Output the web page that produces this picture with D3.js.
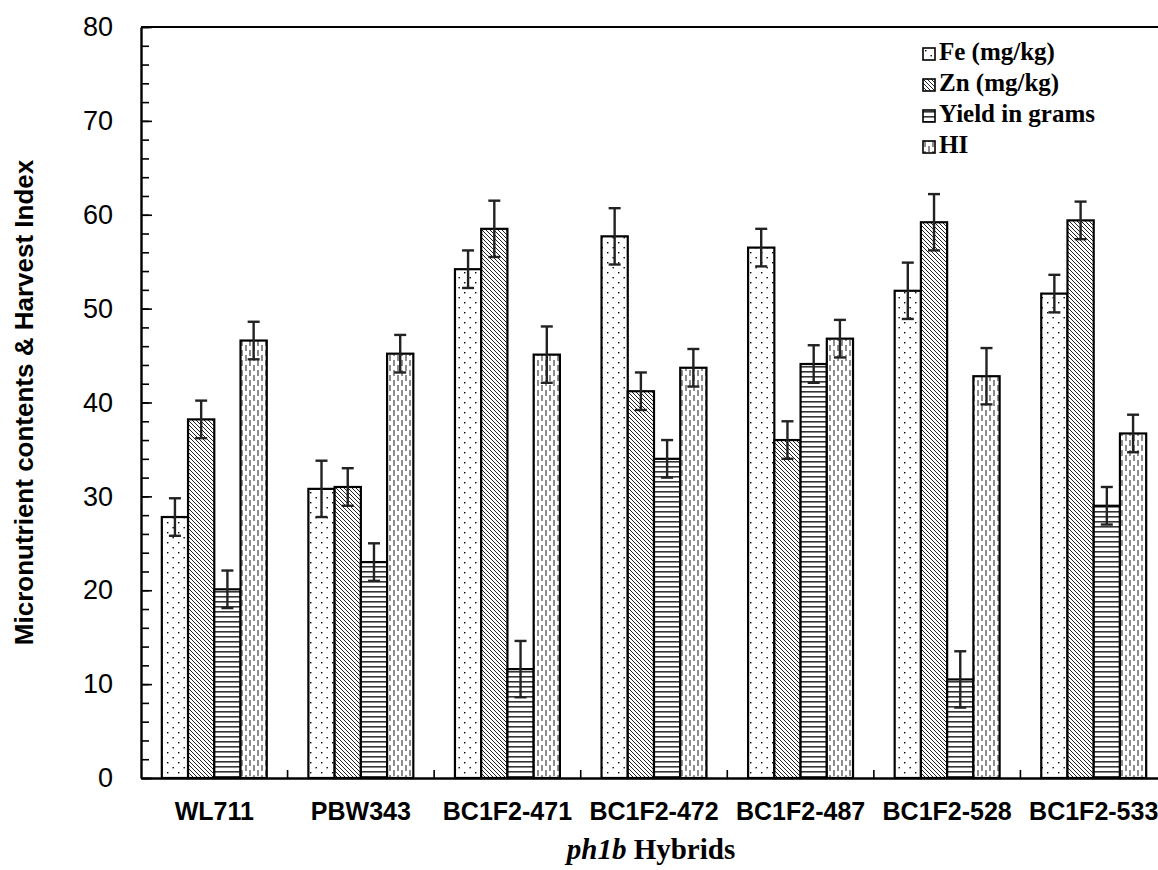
<!DOCTYPE html>
<html>
<head>
<meta charset="utf-8">
<script src="https://cdn.jsdelivr.net/npm/d3@7/dist/d3.min.js"></script>
<style>
  html, body { margin: 0; padding: 0; background: #fff; }
  svg { display: block; }
</style>
</head>
<body>
<div id="chart"></div>
<script>
// data
const hybrids = ['WL711', 'PBW343', 'BC1F2-471', 'BC1F2-472', 'BC1F2-487', 'BC1F2-528', 'BC1F2-533'];
const seriesNames = ['Fe (mg/kg)', 'Zn (mg/kg)', 'Yield in grams', 'HI'];
const feValues    = [27.8, 30.8, 54.2, 57.7, 56.5, 51.9, 51.6];
const znValues    = [38.2, 31.0, 58.5, 41.2, 36.0, 59.2, 59.4];
const yieldValues = [20.1, 23.0, 11.6, 34.0, 44.1, 10.5, 29.0];
const hiValues    = [46.6, 45.2, 45.1, 43.7, 46.8, 42.8, 36.7];
const feErr    = [2, 3, 2, 3, 2, 3, 2];
const znErr    = [2, 2, 3, 2, 2, 3, 2];
const yieldErr = [2, 2, 3, 2, 2, 3, 2];
const hiErr    = [2, 2, 3, 2, 2, 3, 2];
const yTicks = [0, 10, 20, 30, 40, 50, 60, 70, 80];

const W = 1158, H = 870;
const margin = { top: 27, left: 141, bottom: 92 };
const plotRight = 1167; // the right border is cut off in the original
const plotBottom = H - margin.bottom;

const svg = d3.select('#chart').append('svg')
  .attr('width', W).attr('height', H);

// fill patterns
const defs = svg.append('defs');
const pFe = defs.append('pattern').attr('id', 'pFe').attr('patternUnits', 'userSpaceOnUse')
  .attr('width', 11).attr('height', 10);
pFe.append('rect').attr('width', 11).attr('height', 10).attr('fill', '#fff');
pFe.append('rect').attr('x', 2).attr('y', 2).attr('width', 1.4).attr('height', 1.4).attr('fill', '#000');
pFe.append('rect').attr('x', 7.5).attr('y', 7).attr('width', 1.4).attr('height', 1.4).attr('fill', '#000');

const pZn = defs.append('pattern').attr('id', 'pZn').attr('patternUnits', 'userSpaceOnUse')
  .attr('width', 4).attr('height', 4);
pZn.append('rect').attr('width', 4).attr('height', 4).attr('fill', '#fff');
pZn.append('path').attr('d', 'M-1,-1L5,5M-1,3L1,5M3,-1L5,1')
  .attr('stroke', '#222').attr('stroke-width', 1);

const pYield = defs.append('pattern').attr('id', 'pYield').attr('patternUnits', 'userSpaceOnUse')
  .attr('width', 6).attr('height', 5);
pYield.append('rect').attr('width', 6).attr('height', 5).attr('fill', '#fff');
pYield.append('rect').attr('y', 1).attr('width', 6).attr('height', 1.6).attr('fill', '#333');

const pHI = defs.append('pattern').attr('id', 'pHI').attr('patternUnits', 'userSpaceOnUse')
  .attr('width', 8).attr('height', 10);
pHI.append('rect').attr('width', 8).attr('height', 10).attr('fill', '#fff');
pHI.append('path').attr('d', 'M2,0V6M6,5V10M6,0V1')
  .attr('stroke', '#333').attr('stroke-width', 1.1);

const fills = ['url(#pFe)', 'url(#pZn)', 'url(#pYield)', 'url(#pHI)'];
const allValues = [feValues, znValues, yieldValues, hiValues];
const allErr = [feErr, znErr, yieldErr, hiErr];

// scales
const x0 = d3.scaleBand().domain(hybrids).range([margin.left, plotRight]).padding(0);
const bw = x0.bandwidth();
const groupPad = bw * 0.142;
const x1 = d3.scaleBand().domain(d3.range(seriesNames.length))
  .range([groupPad, bw - groupPad]).padding(0);
const y = d3.scaleLinear().domain([0, 80]).range([plotBottom, margin.top]);

// bars
const rows = [];
hybrids.forEach((h, i) => {
  allValues.forEach((vals, s) => {
    rows.push({ hybrid: h, s: s, v: vals[i], e: allErr[s][i] });
  });
});

svg.append('g').selectAll('rect').data(rows).enter().append('rect')
  .attr('x', d => x0(d.hybrid) + x1(d.s))
  .attr('y', d => y(d.v))
  .attr('width', x1.bandwidth())
  .attr('height', d => y(0) - y(d.v))
  .attr('fill', d => fills[d.s])
  .attr('stroke', '#000')
  .attr('stroke-width', 2.2);

// error bars
const eb = svg.append('g').attr('stroke', '#222').attr('stroke-width', 2.4);
rows.forEach(d => {
  const cx = x0(d.hybrid) + x1(d.s) + x1.bandwidth() / 2;
  eb.append('line').attr('x1', cx).attr('x2', cx).attr('y1', y(d.v + d.e)).attr('y2', y(d.v - d.e));
  eb.append('line').attr('x1', cx - 6).attr('x2', cx + 6).attr('y1', y(d.v + d.e)).attr('y2', y(d.v + d.e));
  eb.append('line').attr('x1', cx - 6).attr('x2', cx + 6).attr('y1', y(d.v - d.e)).attr('y2', y(d.v - d.e));
});

// frame: top border
svg.append('line').attr('x1', margin.left).attr('x2', W).attr('y1', margin.top).attr('y2', margin.top)
  .attr('stroke', '#000').attr('stroke-width', 2.2);

// y axis with inside ticks
const yAxisMinor = d3.axisRight(y).tickValues(d3.range(0, 81, 2)).tickSize(8).tickFormat('');
svg.append('g').attr('transform', `translate(${margin.left},0)`).call(yAxisMinor)
  .call(g => g.select('.domain').remove())
  .call(g => g.selectAll('line').attr('stroke', '#000').attr('stroke-width', 1.6));
const yAxis = d3.axisLeft(y).tickValues(yTicks).tickSize(0).tickPadding(28);
svg.append('g').attr('transform', `translate(${margin.left},0)`).call(yAxis)
  .call(g => g.select('.domain').attr('stroke', '#000').attr('stroke-width', 2.4))
  .call(g => g.selectAll('text')
    .attr('font-family', '"Liberation Sans", Arial, sans-serif')
    .attr('font-size', 27).attr('fill', '#000'));
svg.append('g').attr('transform', `translate(${margin.left},0)`)
  .call(d3.axisRight(y).tickValues(yTicks).tickSize(11).tickFormat(''))
  .call(g => g.select('.domain').remove())
  .call(g => g.selectAll('line').attr('stroke', '#000').attr('stroke-width', 1.6));

// x axis
const xAxis = d3.axisBottom(x0).tickSize(0).tickPadding(24);
svg.append('g').attr('transform', `translate(0,${plotBottom})`).call(xAxis)
  .call(g => g.select('.domain').attr('stroke', '#000').attr('stroke-width', 2.4))
  .call(g => g.selectAll('text')
    .attr('font-family', '"Liberation Sans", Arial, sans-serif')
    .attr('font-weight', 'bold').attr('font-size', 25).attr('fill', '#000'));
// small ticks at category boundaries
svg.append('g').selectAll('line').data(hybrids.slice(1)).enter().append('line')
  .attr('x1', d => x0(d)).attr('x2', d => x0(d))
  .attr('y1', plotBottom).attr('y2', plotBottom - 8)
  .attr('stroke', '#000').attr('stroke-width', 1.6);

// axis titles
svg.append('text')
  .attr('transform', `translate(33,${(margin.top + plotBottom) / 2}) rotate(-90)`)
  .attr('text-anchor', 'middle')
  .attr('font-family', '"Liberation Sans", Arial, sans-serif')
  .attr('font-weight', 'bold').attr('font-size', 26)
  .text('Micronutrient contents & Harvest Index');

const xt = svg.append('text')
  .attr('x', 651).attr('y', 859)
  .attr('text-anchor', 'middle')
  .attr('font-family', '"Liberation Serif", "Times New Roman", serif')
  .attr('font-weight', 'bold').attr('font-size', 29);
xt.append('tspan').attr('font-style', 'italic').text('ph1b');
xt.append('tspan').text(' Hybrids');

// legend
const legend = svg.append('g').attr('transform', 'translate(923,48)');
seriesNames.forEach((name, i) => {
  const g = legend.append('g').attr('transform', `translate(0,${i * 31})`);
  g.append('rect').attr('width', 12).attr('height', 12)
    .attr('fill', fills[i]).attr('stroke', '#000').attr('stroke-width', 1.6);
  g.append('text').attr('x', 16).attr('y', 12)
    .attr('font-family', '"Liberation Serif", "Times New Roman", serif')
    .attr('font-weight', 'bold').attr('font-size', 25)
    .text(name);
});
</script>
</body>
</html>
